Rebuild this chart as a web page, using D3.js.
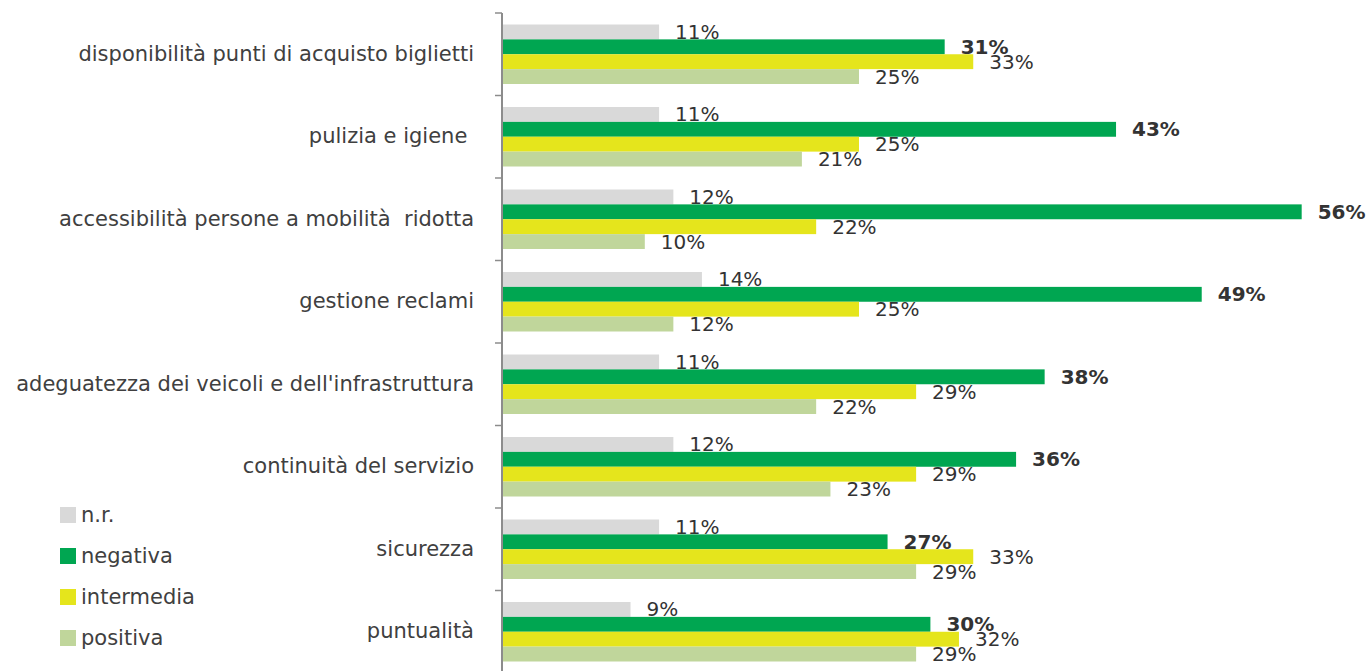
<!DOCTYPE html>
<html>
<head>
<meta charset="utf-8">
<script src="https://cdn.jsdelivr.net/npm/d3@7"></script>
<style>
  body { margin: 0; background: #fff; }
  svg { display: block; font-family: "DejaVu Sans", sans-serif; }
</style>
</head>
<body>
<svg id="chart"></svg>
<script>
let categories = [
    "disponibilità punti di acquisto biglietti",
    "pulizia e igiene ",
    "accessibilità persone a mobilità  ridotta",
    "gestione reclami",
    "adeguatezza dei veicoli e dell'infrastruttura",
    "continuità del servizio",
    "sicurezza",
    "puntualità"
]
let seriesNames = ["n.r.", "negativa", "intermedia", "positiva"]
let nr = [11, 11, 12, 14, 11, 12, 11, 9]
let negativa = [31, 43, 56, 49, 38, 36, 27, 30]
let intermedia = [33, 25, 22, 25, 29, 29, 33, 32]
let positiva = [25, 21, 10, 12, 22, 23, 29, 29]
let colors = ["#d9d9d9", "#00a651", "#e5e51c", "#c0d69b"]

let width = 1368
let height = 671
let x0 = 502
let top0 = 13
let fontSize = 21

let svg = d3.select('#chart').attr('width', width).attr('height', height)

let series = [nr, negativa, intermedia, positiva]
let rows = []
categories.forEach(function(c, i){
    series.forEach(function(s, j){
        rows.push({cat: c, key: seriesNames[j], value: s[i], idx: j})
    })
})

let xScale = d3.scaleLinear().domain([0, 60]).range([x0, x0 + 60 * 14.28])
let yScale = d3.scaleBand().domain(categories).range([top0, top0 + 8 * 82.5]).padding(0)
let inner = d3.scaleBand().domain(seriesNames).range([11.5, 71]).padding(0)
let color = d3.scaleOrdinal().domain(seriesNames).range(colors)

// bars
svg.append('g').selectAll('rect')
    .data(rows)
    .enter()
    .append('rect')
    .attr('x', xScale(0))
    .attr('y', d => yScale(d.cat) + inner(d.key))
    .attr('width', d => xScale(d.value) - xScale(0))
    .attr('height', inner.bandwidth())
    .attr('fill', d => color(d.key))

// value labels
svg.append('g').selectAll('text')
    .data(rows)
    .enter()
    .append('text')
    .attr('x', d => xScale(d.value) + 16)
    .attr('y', d => yScale(d.cat) + inner(d.key) + inner.bandwidth() / 2)
    .attr('dy', '0.35em')
    .attr('font-size', 20)
    .attr('font-weight', d => d.key === 'negativa' ? 'bold' : 'normal')
    .attr('fill', '#333')
    .text(d => d.value + '%')

// category axis
let yAxis = d3.axisLeft(yScale).tickSize(0).tickPadding(28)
let ax = svg.append('g').attr('transform', 'translate(' + x0 + ',0)').call(yAxis)
ax.select('.domain').remove()
ax.selectAll('text')
    .attr('font-size', fontSize)
    .attr('font-family', '"DejaVu Sans", sans-serif')
    .attr('fill', '#404040')
    .style('white-space', 'pre')

// boundary ticks and axis line
let bounds = d3.range(categories.length + 1).map(i => top0 + i * yScale.step())
svg.append('g').selectAll('line')
    .data(bounds)
    .enter()
    .append('line')
    .attr('x1', x0 - 7).attr('x2', x0)
    .attr('y1', d => d).attr('y2', d => d)
    .attr('stroke', '#8c8c8c').attr('stroke-width', 1.5)
svg.append('line')
    .attr('x1', x0).attr('x2', x0)
    .attr('y1', top0).attr('y2', height)
    .attr('stroke', '#8c8c8c').attr('stroke-width', 2)

// legend
let legend = svg.append('g').selectAll('g')
    .data(seriesNames)
    .enter()
    .append('g')
    .attr('transform', (d, i) => 'translate(60,' + (515 + i * 41) + ')')
legend.append('rect')
    .attr('x', 0).attr('y', -8)
    .attr('width', 16).attr('height', 16)
    .attr('fill', d => color(d))
legend.append('text')
    .attr('x', 21).attr('y', 0).attr('dy', '0.35em')
    .attr('font-size', fontSize)
    .attr('fill', '#404040')
    .text(d => d)
</script>
</body>
</html>
